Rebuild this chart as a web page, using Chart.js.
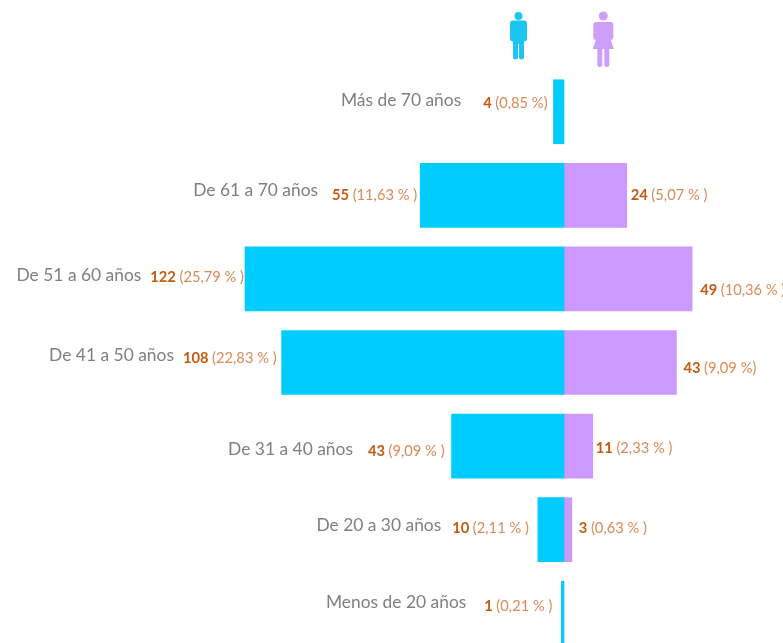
<!DOCTYPE html>
<html lang="es">
<head>
<meta charset="utf-8">
<style>
html,body{margin:0;padding:0;background:#fff;overflow:hidden;width:783px;height:643px}
#wrap{position:relative;width:783px;height:643px;overflow:hidden}
#wrap canvas{position:absolute;left:0;top:0}
</style>
<script src="https://cdn.jsdelivr.net/npm/chart.js@4"></script>
</head>
<body>
<div id="wrap"><canvas id="c" width="783" height="655"></canvas></div>
<script>
const categories = ["Más de 70 años","De 61 a 70 años","De 51 a 60 años","De 41 a 50 años","De 31 a 40 años","De 20 a 30 años","Menos de 20 años"];
const menCounts = [4,55,122,108,43,10,1];
const womenCounts = [0,24,49,43,11,3,0];
const menPercent = ["(0,85 %)","(11,63 % )","(25,79 % )","(22,83 % )","(9,09 % )","(2,11 % )","(0,21 % )"];
const womenPercent = ["","(5,07 % )","(10,36 % )","(9,09 %)","(2,33 % )","(0,63 % )",""];

// Hand placement of the annotations relative to each bar, as in the reference
const menGap = [6,3,1,5,7,9,9], menDy = [-9,0,-2,-4,5,-1,-7];
const womenGap = [0,4,8,7,3,7,0], womenDy = [0,0,11,6,2,-1,0];
const catGap = [22,14,9,9,15,11,18], catDy = [-11,-5,-4,-7,3,-4,-11];

const BLUE = "#00CCFF", PURPLE = "#CC99FF";
const FONT = "Lato, Carlito, sans-serif";

function figure(ctx, x, top, color, female) {
  ctx.save();
  ctx.fillStyle = color; ctx.strokeStyle = color; ctx.lineCap = "round"; ctx.lineJoin = "round";
  ctx.beginPath(); ctx.arc(x, top + 4, female ? 4.5 : 4, 0, Math.PI * 2); ctx.fill();
  if (!female) {
    ctx.beginPath(); ctx.roundRect(x - 8.5, top + 8.5, 17, 21, 3); ctx.fill();
    ctx.beginPath(); ctx.roundRect(x - 5.5, top + 12, 11, 20, 1); ctx.fill();
    ctx.lineWidth = 5;
    ctx.beginPath(); ctx.moveTo(x - 3, top + 30); ctx.lineTo(x - 3, top + 45); ctx.stroke();
    ctx.beginPath(); ctx.moveTo(x + 3, top + 30); ctx.lineTo(x + 3, top + 45); ctx.stroke();
  } else {
    ctx.beginPath(); ctx.roundRect(x - 10, top + 10, 20, 18, 3); ctx.fill();
    ctx.beginPath();
    ctx.moveTo(x - 5.5, top + 22); ctx.lineTo(x + 5.5, top + 22);
    ctx.lineTo(x + 10.5, top + 37); ctx.lineTo(x - 10.5, top + 37); ctx.closePath(); ctx.fill();
    ctx.lineWidth = 5;
    ctx.beginPath(); ctx.moveTo(x - 3.5, top + 36); ctx.lineTo(x - 3.5, top + 52.5); ctx.stroke();
    ctx.beginPath(); ctx.moveTo(x + 3.5, top + 36); ctx.lineTo(x + 3.5, top + 52.5); ctx.stroke();
  }
  ctx.restore();
}

const annotations = {
  id: "annotations",
  afterDatasetsDraw(chart) {
    const ctx = chart.ctx;
    const men = chart.getDatasetMeta(0).data;
    const women = chart.getDatasetMeta(1).data;
    const boldFont = "bold 14.7px " + FONT, normFont = "14.7px " + FONT;
    ctx.save();
    ctx.textBaseline = "middle";
    categories.forEach((cat, i) => {
      const y = men[i].y;
      const count = String(menCounts[i]) + " ";
      ctx.font = boldFont; const cw = ctx.measureText(count).width;
      ctx.font = normFont; const pw = ctx.measureText(menPercent[i]).width;
      const right = men[i].x - menGap[i];
      const left = right - cw - pw;
      ctx.textAlign = "left";
      ctx.font = boldFont; ctx.fillStyle = "#C55A11"; ctx.fillText(count, left, y + menDy[i]);
      ctx.font = normFont; ctx.fillStyle = "#DB8B57"; ctx.fillText(menPercent[i], left + cw, y + menDy[i]);
      ctx.font = "17.4px " + FONT; ctx.fillStyle = "#7F7F7F"; ctx.textAlign = "right";
      ctx.fillText(cat, left - catGap[i], y + catDy[i]);
      if (womenCounts[i] > 0) {
        const wc = String(womenCounts[i]) + " ";
        const wx = women[i].x + womenGap[i];
        ctx.textAlign = "left";
        ctx.font = boldFont; ctx.fillStyle = "#C55A11"; ctx.fillText(wc, wx, y + womenDy[i]);
        const w2 = ctx.measureText(wc).width;
        ctx.font = normFont; ctx.fillStyle = "#DB8B57"; ctx.fillText(womenPercent[i], wx + w2, y + womenDy[i]);
      }
    });
    ctx.restore();
    const zero = chart.scales.x.getPixelForValue(0);
    figure(ctx, zero - 45.5, 12, "#1CC6F2", false);
    figure(ctx, zero + 39.3, 12, "#CE9FFA", true);
  }
};

new Chart(document.getElementById("c"), {
  type: "bar",
  data: {
    labels: categories,
    datasets: [
      { label: "Hombres", data: menCounts.map(v => -v), backgroundColor: BLUE, barThickness: 64, stack: "s" },
      { label: "Mujeres", data: womenCounts, backgroundColor: PURPLE, barThickness: 64, stack: "s" }
    ]
  },
  options: {
    indexAxis: "y",
    responsive: false,
    animation: false,
    layout: { padding: { top: 70, bottom: 0, left: 0, right: 0 } },
    plugins: { legend: { display: false }, tooltip: { enabled: false } },
    scales: {
      x: { display: false, stacked: true, min: -215.7, max: 83.75 },
      y: { display: false, stacked: true }
    }
  },
  plugins: [annotations]
});
</script>
</body>
</html>
